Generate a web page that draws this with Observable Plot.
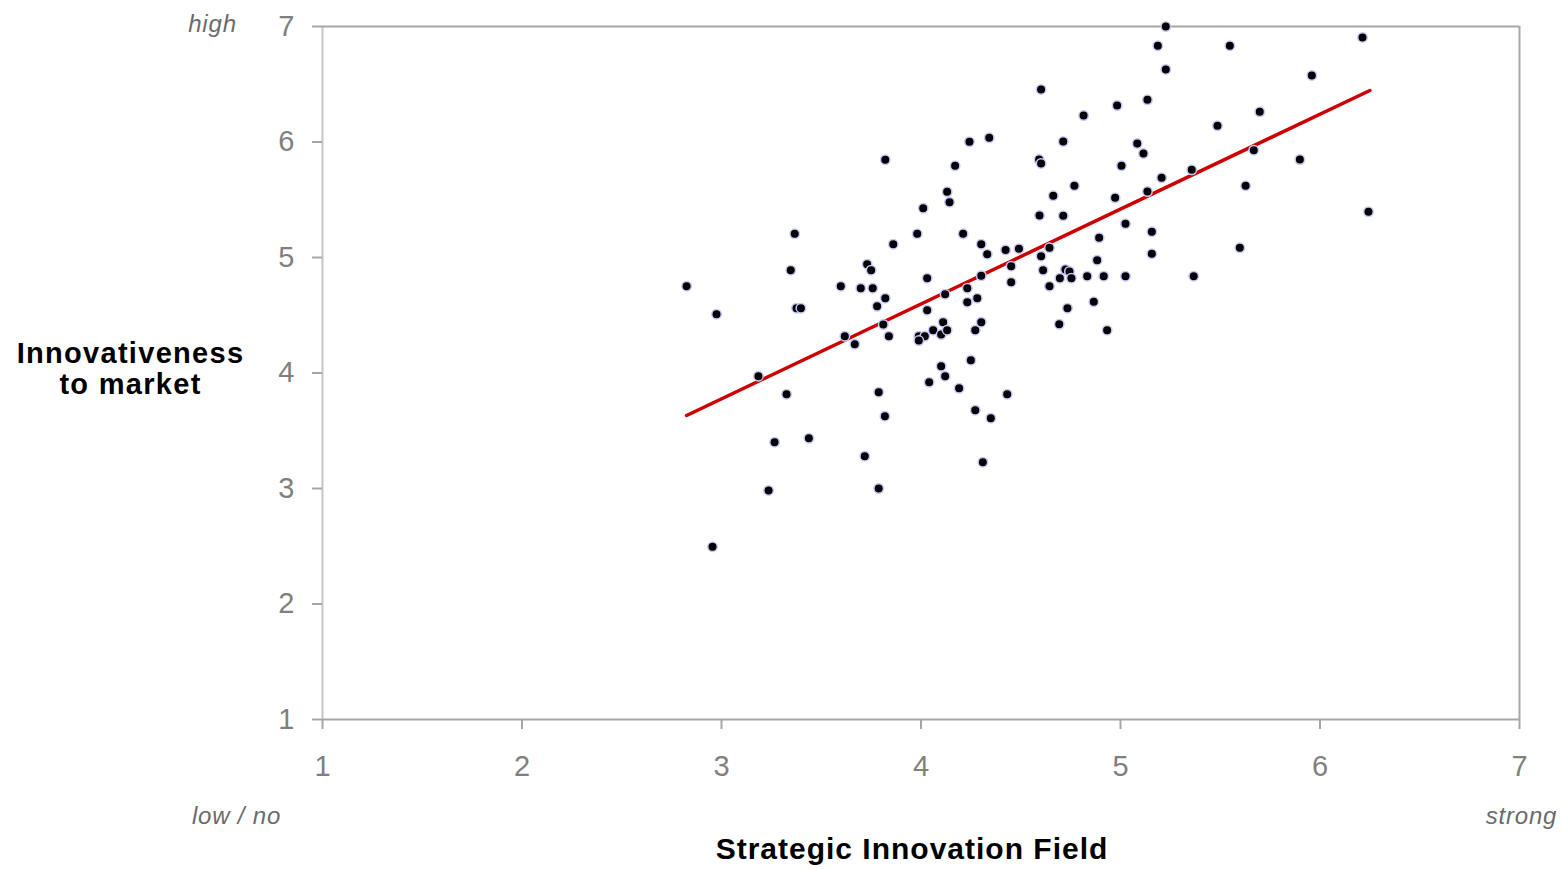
<!DOCTYPE html>
<html>
<head>
<meta charset="utf-8">
<script src="https://cdn.jsdelivr.net/npm/d3@7"></script>
<script src="https://cdn.jsdelivr.net/npm/@observablehq/plot@0.6"></script>
<style>
  html, body { margin: 0; padding: 0; background: #fff; overflow: hidden; }
  #chart svg { display: block; }
</style>
</head>
<body>
<div id="chart"></div>
<script>
// ---- data ----
const xTicks = [1, 2, 3, 4, 5, 6, 7];
const yTicks = [1, 2, 3, 4, 5, 6, 7];

const fieldScores = [
  2.825, 2.975, 2.955, 3.185, 3.236, 3.266, 3.326, 3.347, 3.367, 3.376, 3.398, 3.438, 3.598,
  3.618, 3.668, 3.698, 3.718, 3.730, 3.750, 3.758, 3.780, 3.788, 3.788, 3.811, 3.821, 3.819,
  3.821, 3.839, 3.861, 3.981, 3.989, 4.019, 3.989, 4.011, 4.031, 4.031, 4.041, 4.061, 4.101,
  4.101, 4.111, 4.121, 4.121, 4.131, 4.131, 4.143, 4.171, 4.191, 4.211, 4.232, 4.232, 4.243,
  4.250, 4.272, 4.272, 4.282, 4.302, 4.302, 4.302, 4.310, 4.332, 4.342, 4.350, 4.424, 4.432,
  4.452, 4.452, 4.491, 4.592, 4.602, 4.594, 4.602, 4.602, 4.612, 4.644, 4.644, 4.663, 4.693,
  4.696, 4.713, 4.713, 4.724, 4.744, 4.754, 4.734, 4.769, 4.815, 4.833, 4.866, 4.883, 4.893,
  4.916, 4.933, 4.973, 4.983, 5.005, 5.025, 5.025, 5.084, 5.115, 5.135, 5.135, 5.157, 5.157,
  5.187, 5.206, 5.227, 5.227, 5.357, 5.367, 5.486, 5.548, 5.598, 5.627, 5.668, 5.698, 5.899,
  5.959, 6.213, 6.243
];
const marketScores = [
  4.752, 4.509, 2.495, 3.972, 2.983, 3.401, 3.816, 4.890, 5.205, 4.561, 4.561, 3.435, 4.752,
  4.319, 4.249, 4.734, 3.280, 4.942, 4.890, 4.734, 4.578, 3.834, 3.000, 4.420, 4.648, 3.626,
  5.846, 4.319, 5.115, 5.205, 4.319, 4.319, 4.281, 5.427, 4.821, 4.544, 3.920, 4.371, 4.059,
  4.333, 4.440, 3.972, 4.682, 4.371, 5.569, 5.479, 5.794, 3.868, 5.205, 4.734, 4.613, 6.002,
  4.111, 3.678, 4.371, 4.648, 4.440, 5.115, 4.842, 3.228, 5.029, 6.036, 3.609, 5.065, 3.816,
  4.925, 4.786, 5.076, 5.848, 5.814, 5.364, 6.455, 5.011, 4.890, 5.084, 4.752, 5.534, 4.422,
  4.821, 6.004, 5.361, 4.896, 4.879, 4.821, 4.561, 5.621, 6.229, 4.838, 4.616, 4.977, 5.171,
  4.838, 4.371, 5.517, 6.316, 5.794, 5.292, 4.838, 5.987, 5.900, 6.365, 5.571, 5.222, 5.032,
  6.833, 5.690, 7.000, 6.628, 5.759, 4.838, 6.140, 6.833, 5.084, 5.621, 5.929, 6.261, 5.848,
  6.576, 6.905, 5.396
];

const trendX = [2.825, 6.250];
const trendY = [3.632, 6.446];

const xTitle = "Strategic Innovation Field";
const yTitleLines = ["Innovativeness", "to market"];
const yHigh = "high";
const xLow = "low / no";
const xHigh = "strong";

// ---- tables ----
const points = fieldScores.map((x, i) => ({x, y: marketScores[i]}));
const trend = trendX.map((x, i) => ({x, y: trendY[i]}));
const xMin = xTicks[0], xMax = xTicks[xTicks.length - 1];
const yMin = yTicks[0], yMax = yTicks[yTicks.length - 1];

const FONT = "'Liberation Sans', Arial, Helvetica, sans-serif";
const tickGray = "#a6a6a6";

const chart = Plot.plot({
  width: 1563,
  height: 869,
  marginLeft: 322,
  marginRight: 44,
  marginTop: 26,
  marginBottom: 150,
  x: {domain: [xMin, xMax]},
  y: {domain: [yMin, yMax]},
  style: {fontFamily: FONT, background: "#fff", overflow: "visible"},
  marks: [
    Plot.ruleX([xMin], {stroke: "#c6c6c6", strokeWidth: 2}),
    Plot.ruleX([xMax], {stroke: tickGray, strokeWidth: 2}),
    Plot.ruleY([yMin], {stroke: tickGray, strokeWidth: 2}),
    Plot.ruleY([yMax], {stroke: tickGray, strokeWidth: 2}),
    Plot.axisY({ticks: yTicks, tickSize: 10, tickPadding: 18, fontSize: 29,
      stroke: tickGray, strokeWidth: 2, fill: "#808080", label: null, tickFormat: d => String(d)}),
    Plot.axisX({ticks: xTicks, tickSize: 10, tickPadding: 26, fontSize: 29,
      stroke: tickGray, strokeWidth: 2, fill: "#808080", label: null, tickFormat: d => String(d)}),
    Plot.line(trend, {x: "x", y: "y", stroke: "#cc0000", strokeWidth: 3.5}),
    Plot.dot(points, {x: "x", y: "y", r: 4.75, fill: "#000", stroke: "#c8c8fa", strokeWidth: 1.5}),
    Plot.text([yHigh], {text: d => d, frameAnchor: "top-left", dx: -110, dy: 5,
      lineAnchor: "bottom", textAnchor: "middle", fontSize: 24, fontStyle: "italic", fill: "#6b6b6b"}),
    Plot.text([yTitleLines.join("\n")], {text: d => d, frameAnchor: "top-left", dx: -192, dy: 367,
      lineAnchor: "bottom", textAnchor: "middle", lineHeight: 1.05, fontSize: 29, fontWeight: "bold", fill: "#000"}),
    Plot.text([xLow], {text: d => d, frameAnchor: "bottom-left", dx: -86, dy: 104,
      lineAnchor: "bottom", textAnchor: "middle", fontSize: 24, fontStyle: "italic", fill: "#6b6b6b"}),
    Plot.text([xHigh], {text: d => d, frameAnchor: "bottom-right", dx: 2, dy: 104,
      lineAnchor: "bottom", textAnchor: "middle", fontSize: 24, fontStyle: "italic", fill: "#6b6b6b"}),
    Plot.text([xTitle], {text: d => d, frameAnchor: "bottom", dx: -9, dy: 139,
      lineAnchor: "bottom", textAnchor: "middle", fontSize: 30, fontWeight: "bold", fill: "#000"})
  ]
});

// slight horizontal widening of the label typography
chart.querySelectorAll("text").forEach(t => {
  const s = t.textContent;
  if (s === xTitle) t.style.letterSpacing = "1px";
  else if (s.startsWith(yTitleLines[0])) t.style.letterSpacing = "1.3px";
  else if (s === yHigh || s === xLow || s === xHigh) t.style.letterSpacing = "0.8px";
});

document.getElementById("chart").appendChild(chart);
</script>
</body>
</html>
